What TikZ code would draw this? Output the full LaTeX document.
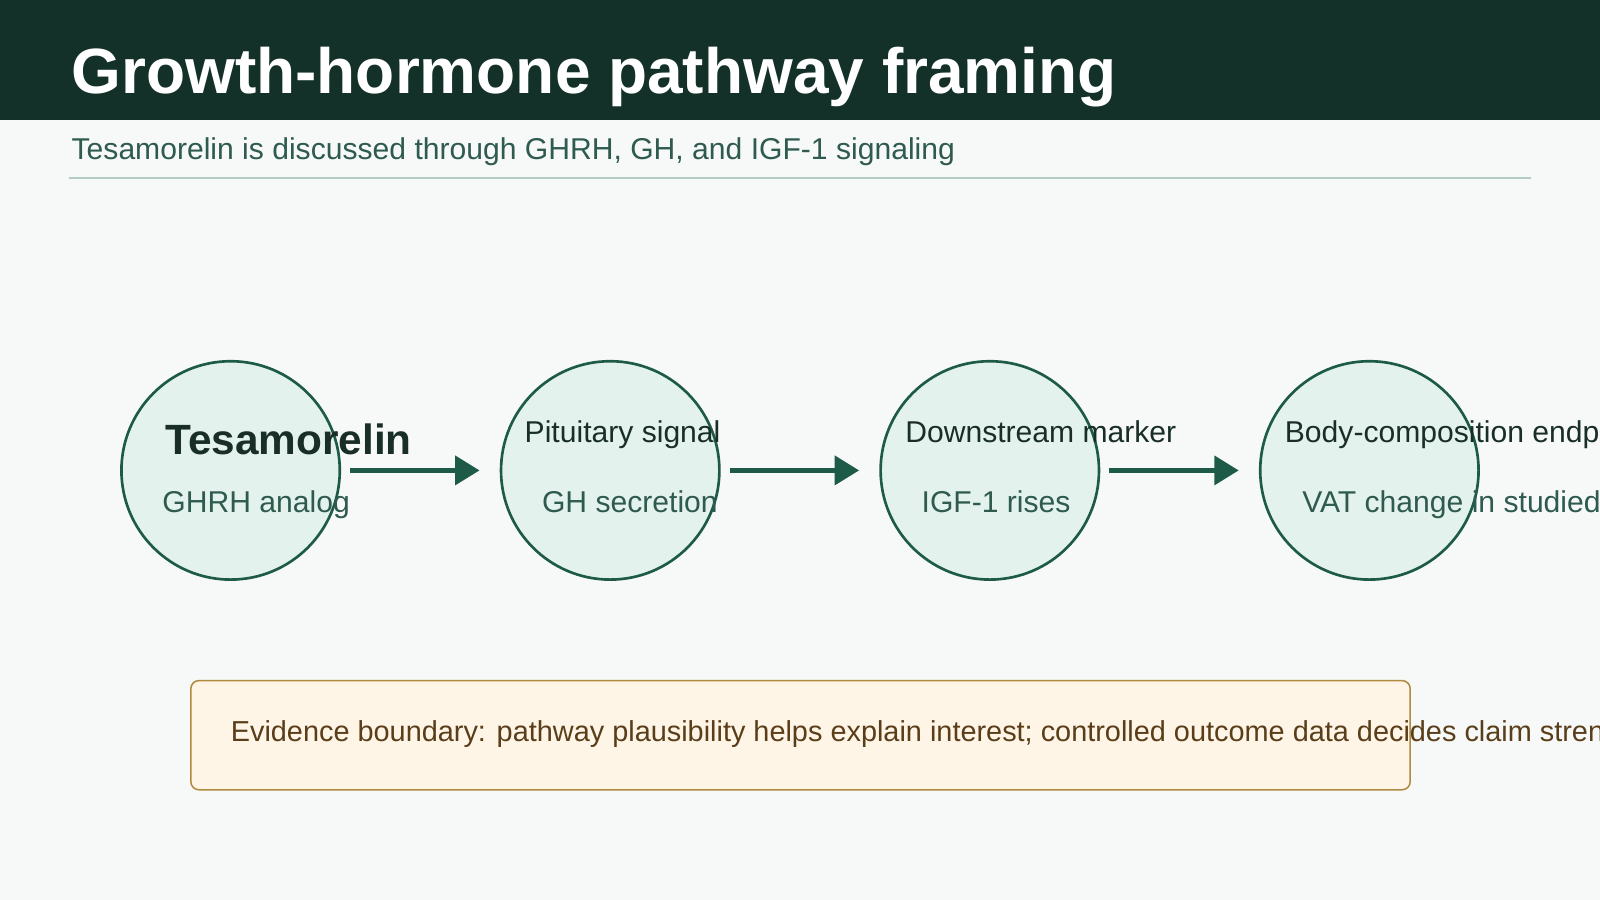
\documentclass[tikz,border=0pt]{standalone}
\usepackage{fontspec}
\setmainfont{Liberation Sans}
\usetikzlibrary{arrows.meta}
\definecolor{hdr}{HTML}{143129}
\definecolor{bg}{HTML}{F6F9F8}
\definecolor{sub}{HTML}{2F5A4F}
\definecolor{rule}{HTML}{B5CBC5}
\definecolor{cfill}{HTML}{E3F2EC}
\definecolor{cdraw}{HTML}{1E5A48}
\definecolor{ctext}{HTML}{1A2E28}
\definecolor{bfill}{HTML}{FFF5E6}
\definecolor{bdraw}{HTML}{B08A40}
\definecolor{btext}{HTML}{5A3E1A}
\tikzset{
 stage/.style={circle,draw=cdraw,fill=cfill,line width=2.6pt,minimum size=214pt,inner sep=0pt},
 ttl/.style={anchor=base west,inner sep=0pt,text=ctext,font=\fontsize{29.5}{34}\selectfont},
 subt/.style={anchor=base west,inner sep=0pt,text=sub,font=\fontsize{29.5}{34}\selectfont},
 flow/.style={-{Triangle[length=24pt,width=28pt]},line width=5pt,draw=cdraw,shorten >=2pt},
}
\begin{document}
\begin{tikzpicture}[x=1pt,y=-1pt]
\useasboundingbox (0,0) rectangle (1568,882);
\clip (0,0) rectangle (1568,882);
\fill[bg] (0,0) rectangle (1568,882);
\fill[hdr] (0,0) rectangle (1568,118);
\node[anchor=base west,inner sep=0pt,text=white,font=\bfseries\fontsize{62.7}{72}\selectfont] (title) at (70,92) {Growth-hormone pathway framing};
\node[anchor=base west,inner sep=0pt,text=sub,font=\fontsize{29.5}{34}\selectfont] (subtitle) at (70,156) {Tesamorelin is discussed through GHRH, GH, and IGF-1 signaling};
\draw[rule,line width=2pt] (68,174) -- (1500,174);
\node[stage] (c1) at (226,461) {};
\node[stage] (c2) at (598,461) {};
\node[stage] (c3) at (970,461) {};
\node[stage] (c4) at (1342,461) {};
\node[anchor=base west,inner sep=0pt,text=ctext,font=\bfseries\fontsize{41.5}{48}\selectfont] (t1) at (162,445) {Tesamorelin};
\node[subt] (s1) at (159,502) {GHRH analog};
\node[ttl] (t2) at (514,434) {Pituitary signal};
\node[subt] (s2) at (531,502) {GH secretion};
\node[ttl] (t3) at (887,434) {Downstream marker};
\node[subt] (s3) at (903,502) {IGF-1 rises};
\node[ttl] (t4) at (1259,434) {Body-composition endpoint};
\node[subt] (s4) at (1276,502) {VAT change in studied};
\coordinate (a1s) at (343,461); \coordinate (a1e) at (472,461);
\coordinate (a2s) at (715,461); \coordinate (a2e) at (844,461);
\coordinate (a3s) at (1087,461); \coordinate (a3e) at (1216,461);
\draw[flow] (a1s) -- (a1e);
\draw[flow] (a2s) -- (a2e);
\draw[flow] (a3s) -- (a3e);
\draw[bdraw,fill=bfill,line width=1.5pt,rounded corners=8pt] (187,667) rectangle (1382,774);
\node[anchor=base west,inner sep=0pt,text=btext,font=\fontsize{28.3}{34}\selectfont] (note) at (226,727) {Evidence boundary: pathway plausibility helps explain interest; controlled outcome data decides claim strength};
\end{tikzpicture}
\end{document}
